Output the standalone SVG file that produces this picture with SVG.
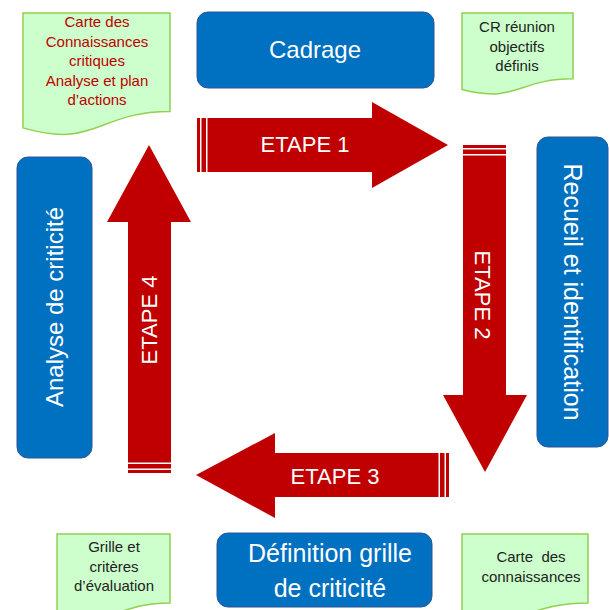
<svg xmlns="http://www.w3.org/2000/svg" width="609" height="610" viewBox="0 0 609 610">
<style>
.box{fill:#0070c0;stroke:#2e5597;stroke-width:1}
.bt{fill:#ffffff;font-family:"Liberation Sans",Arial,sans-serif;font-size:24px;text-anchor:middle}
.arr{fill:#c00000}
.at{fill:#ffffff;font-family:"Liberation Sans",Arial,sans-serif;font-size:22px;text-anchor:middle}
.note{fill:#ccffcc;stroke:#92d050;stroke-width:1.5}
.nt{fill:#222222;font-family:"Liberation Sans",Arial,sans-serif;font-size:15px;text-anchor:middle;white-space:pre}
.red{fill:#c00000}
</style>
<rect width="609" height="610" fill="#ffffff"/>

<g id="connectors">
  <g id="etape1">
    <rect class="arr" x="197" y="118" width="3" height="54"/>
    <rect class="arr" x="201.5" y="118" width="4.5" height="54"/>
    <path class="arr" d="M207.5,118 H372 V102 L448,145 L372,188 V172 H207.5 Z"/>
    <text class="at" x="305" y="152">ETAPE 1</text>
  </g>
  <g id="etape2">
    <rect class="arr" x="463" y="145" width="43" height="3"/>
    <rect class="arr" x="463" y="149.5" width="43" height="4.5"/>
    <path class="arr" d="M463,155.5 H506 V395 H527 L485,472 L443,395 H463 Z"/>
    <text class="at" transform="translate(475,295) rotate(90)">ETAPE 2</text>
  </g>
  <g id="etape3">
    <rect class="arr" x="446" y="453" width="3" height="44"/>
    <rect class="arr" x="440" y="453" width="4.5" height="44"/>
    <path class="arr" d="M438.5,453 V497 H275 V518 L196,475 L275,433 V453 Z"/>
    <text class="at" x="335" y="484">ETAPE 3</text>
  </g>
  <g id="etape4">
    <rect class="arr" x="128" y="470" width="43" height="3"/>
    <rect class="arr" x="128" y="464" width="43" height="4.5"/>
    <path class="arr" d="M128,462.5 V222 H107 L149,145 L191,222 H171 V462.5 Z"/>
    <text class="at" transform="translate(157,320) rotate(-90)">ETAPE 4</text>
  </g>
</g>

<g id="cadrage">
  <rect class="box" x="197" y="12" width="237" height="76" rx="11"/>
  <text class="bt" x="315" y="58">Cadrage</text>
</g>
<g id="recueil">
  <rect class="box" x="537" y="137" width="71" height="310" rx="11"/>
  <text class="bt" style="font-size:25px" transform="translate(564,292) rotate(90)">Recueil et identification</text>
</g>
<g id="definition">
  <rect class="box" x="217" y="533" width="215" height="74" rx="11"/>
  <text class="bt" style="font-size:25px" x="330" y="562">Définition grille</text>
  <text class="bt" style="font-size:25px" x="330" y="597">de criticité</text>
</g>
<g id="analyse">
  <rect class="box" x="17" y="157" width="75" height="301" rx="11"/>
  <text class="bt" transform="translate(63,307) rotate(-90)">Analyse de criticité</text>
</g>

<g id="note-carte-critiques">
  <path class="note" d="M23,13 H170 V111.6 C96.5,111.6 96.5,149.2 23,127.9 Z"/>
  <text class="nt red" x="97" y="27">Carte des</text>
  <text class="nt red" x="97" y="46.5">Connaissances</text>
  <text class="nt red" x="97" y="66">critiques</text>
  <text class="nt red" x="97" y="85.5">Analyse et plan</text>
  <text class="nt red" x="97" y="105">d’actions</text>
</g>
<g id="note-cr">
  <path class="note" d="M462,13 H573 V78.8 C517.5,78.8 517.5,103.8 462,89.6 Z"/>
  <text class="nt" x="517" y="32">CR réunion</text>
  <text class="nt" x="517" y="51.5">objectifs</text>
  <text class="nt" x="517" y="71">définis</text>
</g>
<g id="note-grille">
  <path class="note" d="M57,534 H170 V603 C113.5,603 113.5,629.2 57,614.3 Z"/>
  <text class="nt" x="114" y="552">Grille et</text>
  <text class="nt" x="114" y="571.5">critères</text>
  <text class="nt" x="114" y="591">d’évaluation</text>
</g>
<g id="note-carte">
  <path class="note" d="M462,534 H588 V603 C525,603 525,629.2 462,614.3 Z"/>
  <text class="nt" x="531" y="562">Carte  des</text>
  <text class="nt" x="531" y="582">connaissances</text>
</g>
</svg>
